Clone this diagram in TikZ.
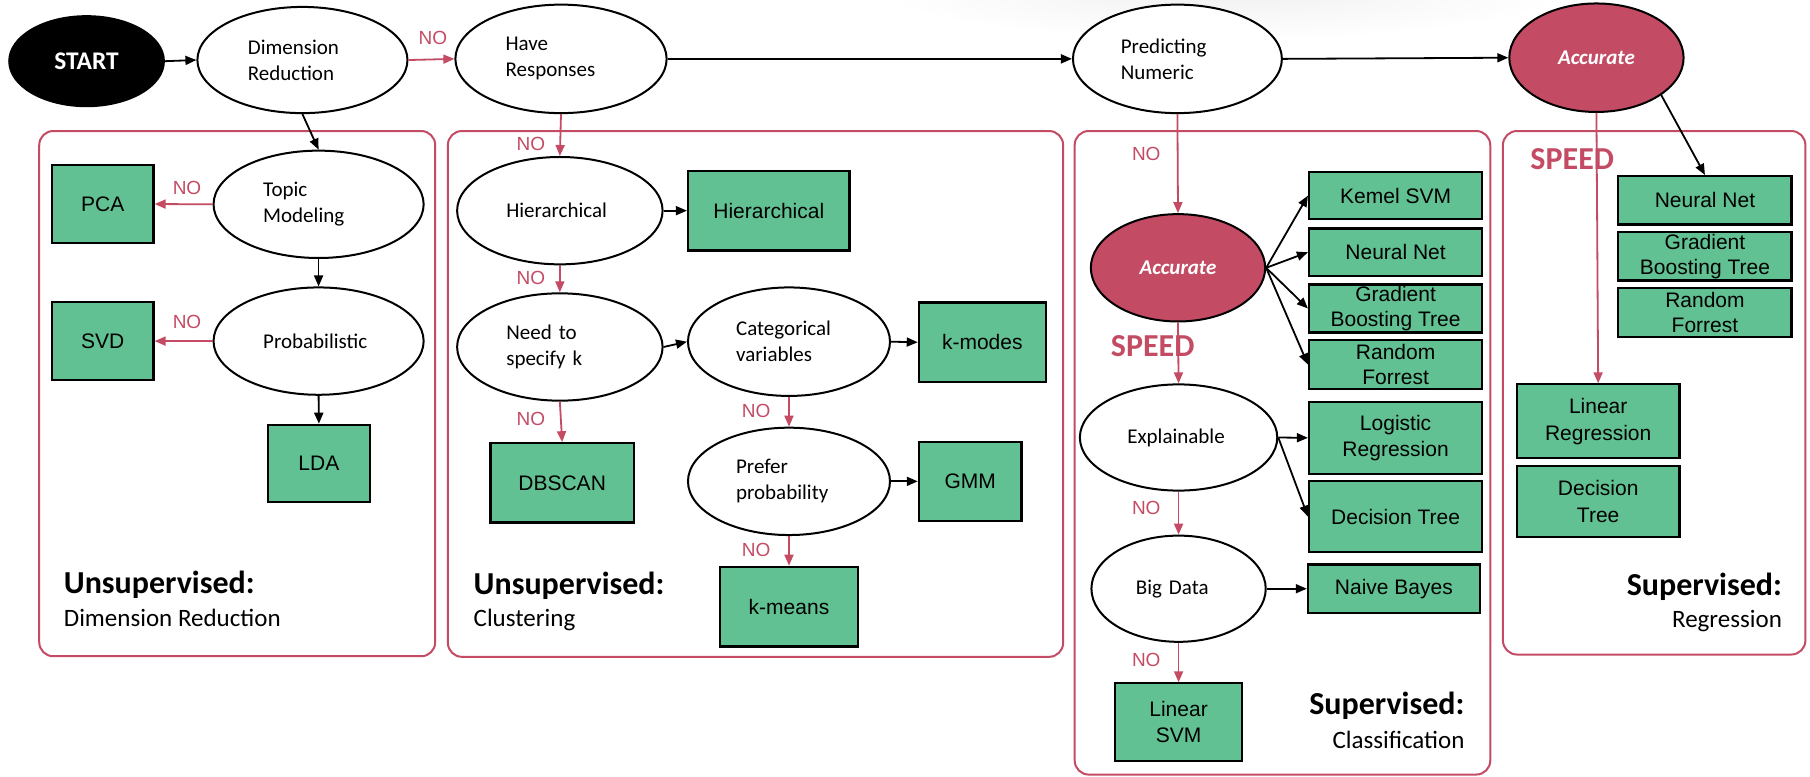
\documentclass[tikz,border=0pt]{standalone}
\usepackage{fontspec}
\setmainfont{Carlito}
\newfontfamily\boxfont{Liberation Sans}
\usetikzlibrary{shapes.geometric, arrows.meta}
\definecolor{crim}{RGB}{196,75,100}
\definecolor{leaf}{RGB}{97,193,146}

\begin{document}
\begin{tikzpicture}[x=0.5771pt, y=-0.5771pt,
  sz/.style 2 args={minimum width=#1*0.5771pt, minimum height=#2*0.5771pt},
  tw/.style={text width=#1*0.5771pt},
  q/.style={ellipse, draw=black, line width=1pt, fill=white, inner sep=0pt,
            align=left, font=\fontsize{10.5}{13}\selectfont},
  acc/.style={fill=crim, text=white, align=center,
            font=\bfseries\itshape\fontsize{10.5}{13}\selectfont},
  term/.style={rectangle, draw=black, line width=1.1pt, fill=leaf, inner sep=0pt,
            align=center, font=\boxfont\fontsize{10.5}{12.5}\selectfont},
  panel/.style={draw=crim, line width=1pt, rounded corners=7pt},
  flow/.style={draw=black, line width=0.9pt, -{Triangle[length=5.5pt,width=4.5pt]}},
  nope/.style={draw=crim, line width=0.9pt, -{Triangle[length=5.5pt,width=4.5pt]}},
  nolab/.style={text=crim, font=\boxfont\fontsize{9.5}{11}\selectfont, inner sep=0pt},
  speed/.style={text=crim, font=\bfseries\fontsize{16}{18}\selectfont, inner sep=0pt},
  head/.style={font=\bfseries\fontsize{16}{19}\selectfont, inner sep=0pt},
  sub/.style={font=\fontsize{12.5}{15}\selectfont, inner sep=0pt},
]
\useasboundingbox (0,0) rectangle (1568,673);

% faint shadow along the top edge
\shade[inner color=black!6, outer color=white] (1060,-10) ellipse [x radius=300, y radius=45];

% group panels
\draw[panel] (34,113.5) rectangle (377,568.5);
\draw[panel] (388,113.5) rectangle (921,569);
\draw[panel] (931,113.5) rectangle (1291,671);
\draw[panel] (1302,113.5) rectangle (1564,567);

% top row
\node[q, fill=black, text=white, align=center, font=\bfseries\fontsize{12.7}{15}\selectfont, sz={134}{78}] (start) at (75,53) {START};
\node[q, sz={182}{92}, tw=94.6] (dr) at (262,52) {Dimension\\Reduction};
\node[q, sz={183}{94}, tw=96] (hr) at (486,51) {Have\\Responses};
\node[q, sz={181}{94}, tw=98] (pn) at (1020,51) {Predicting\\Numeric};
\node[q, acc, sz={151}{94}] (acctop) at (1383,50) {Accurate};

% dimension reduction
\node[q, sz={182}{93}, tw=96] (topic) at (276,177) {Topic\\Modeling};
\node[q, sz={182}{93}, tw=96] (prob) at (276,295.5) {Probabilistic};
\node[term, sz={88}{67.5}] (pca) at (89,176.75) {PCA};
\node[term, sz={88}{68}] (svd) at (89,295.5) {SVD};
\node[term, sz={88.5}{67}] (lda) at (276.25,401.5) {LDA};

% clustering
\node[q, sz={178}{93}, tw=92.8] (hierq) at (485,182.5) {Hierarchical};
\node[q, sz={178}{93}, tw=92.8] (needk) at (485,300.6) {Need to\\specify k};
\node[q, sz={175}{94}, tw=91.6] (cat) at (683.5,296) {Categorical\\variables};
\node[q, sz={175}{93}, tw=91.6] (prefer) at (683.5,417) {Prefer\\probability};
\node[term, sz={140}{69}] (hierbox) at (666,182.5) {Hierarchical};
\node[term, sz={110}{69}] (kmodes) at (851,296.5) {k-modes};
\node[term, sz={124}{68.6}] (dbscan) at (487,418.3) {DBSCAN};
\node[term, sz={89}{68}] (gmm) at (840.5,417) {GMM};
\node[term, sz={119}{69}] (kmeans) at (683.5,525.5) {k-means};

% classification
\node[q, acc, sz={151}{93}] (acc2) at (1020.5,232) {Accurate};
\node[q, sz={171}{92}, tw=88.8] (explain) at (1021,379) {Explainable};
\node[q, sz={151}{92}, tw=74] (bigdata) at (1021,510) {Big Data};
\node[term, sz={150}{41}] (kemel) at (1209,169.5) {Kemel SVM};
\node[term, sz={150}{41}] (nn1) at (1209,218.5) {Neural Net};
\node[term, sz={150}{41.5}] (gbt1) at (1209,267.25) {Gradient\\Boosting Tree};
\node[term, sz={150}{42.4}] (rf1) at (1209,315.8) {Random\\Forrest};
\node[term, sz={150}{62.6}, font=\boxfont\fontsize{10.5}{13}\selectfont] (logreg) at (1209,379.3) {Logistic\\Regression};
\node[term, sz={150}{61}] (dt1) at (1209,447.5) {Decision Tree};
\node[term, sz={149}{42}] (nb) at (1207.5,510) {Naive Bayes};
\node[term, sz={110}{67}, font=\boxfont\fontsize{10.5}{13}\selectfont] (linsvm) at (1021,625.5) {Linear\\SVM};

% regression
\node[term, sz={150}{42}] (nn2) at (1477,173.5) {Neural Net};
\node[term, sz={150}{42.3}] (gbt2) at (1477,221.85) {Gradient\\Boosting Tree};
\node[term, sz={150}{42.5}] (rf2) at (1477,270.75) {Random\\Forrest};
\node[term, sz={141}{64}, font=\boxfont\fontsize{10.5}{13.3}\selectfont] (linreg) at (1384.5,365) {Linear\\Regression};
\node[term, sz={141}{61}, font=\boxfont\fontsize{10.5}{13.3}\selectfont] (dt2) at (1384.5,434.5) {Decision\\Tree};

% connectors
\draw[flow] (start.east) -- (dr.west);
\draw[nope] (dr.east) -- (hr.west);
\draw[flow] (hr.east) -- (pn.west);
\draw[flow] (pn.east) -- (acctop.west);

\draw[flow] (dr.south) -- (topic.north);
\draw[flow] (topic.south) -- (prob.north);
\draw[flow] (prob.south) -- (lda.north);
\draw[nope] (topic.west) -- (pca.east);
\draw[nope] (prob.west) -- (svd.east);

\draw[nope] (hr.south) -- (hierq.north);
\draw[flow] (hierq.east) -- (hierbox.west);
\draw[nope] (hierq.south) -- (needk.north);
\draw[flow] (needk.east) -- (cat.west);
\draw[flow] (cat.east) -- (kmodes.west);
\draw[nope] (needk.south) -- (dbscan.north);
\draw[nope] (cat.south) -- (prefer.north);
\draw[flow] (prefer.east) -- (gmm.west);
\draw[nope] (prefer.south) -- (kmeans.north);

\draw[nope] (pn.south) -- (acc2.north);
\draw[flow] (acc2.east) -- (kemel.west);
\draw[flow] (acc2.east) -- (nn1.west);
\draw[flow] (acc2.east) -- (gbt1.west);
\draw[flow] (acc2.east) -- (rf1.west);
\draw[nope] (acc2.south) -- (explain.north);
\draw[flow] (explain.east) -- (logreg.west);
\draw[flow] (explain.east) -- (dt1.west);
\draw[nope] (explain.south) -- (bigdata.north);
\draw[flow] (bigdata.east) -- (nb.west);
\draw[nope] (bigdata.south) -- (linsvm.north);

\draw[nope] (acctop.south) -- (linreg.north);
\draw[flow] (acctop.-30) -- (nn2.north);

% NO labels
\node[nolab] (no1) at (375,33) {NO};
\node[nolab] (no2) at (460,125) {NO};
\node[nolab] (no3) at (162,163) {NO};
\node[nolab] (no4) at (162,279) {NO};
\node[nolab] (no5) at (460,241) {NO};
\node[nolab] (no6) at (460,363) {NO};
\node[nolab] (no7) at (655,356) {NO};
\node[nolab] (no8) at (655,476) {NO};
\node[nolab] (no9) at (993,133) {NO};
\node[nolab] (no10) at (993,440) {NO};
\node[nolab] (no11) at (993,572) {NO};

% speed labels
\node[speed, anchor=base west] (speed1) at (962,308.5) {SPEED};
\node[speed, anchor=base west] (speed2) at (1325.5,146.5) {SPEED};

% panel titles
\node[head, anchor=base west] (h1) at (55,514) {Unsupervised:};
\node[sub, anchor=base west] (s1) at (55,542.5) {Dimension Reduction};
\node[head, anchor=base west] (h2) at (410,515) {Unsupervised:};
\node[sub, anchor=base west] (s2) at (410,543) {Clustering};
\node[head, anchor=base east] (h3) at (1269,618.6) {Supervised:};
\node[sub, anchor=base east] (s3) at (1269,648) {Classification};
\node[head, anchor=base east] (h4) at (1544,515.5) {Supervised:};
\node[sub, anchor=base east] (s4) at (1544,544) {Regression};
\end{tikzpicture}
\end{document}
